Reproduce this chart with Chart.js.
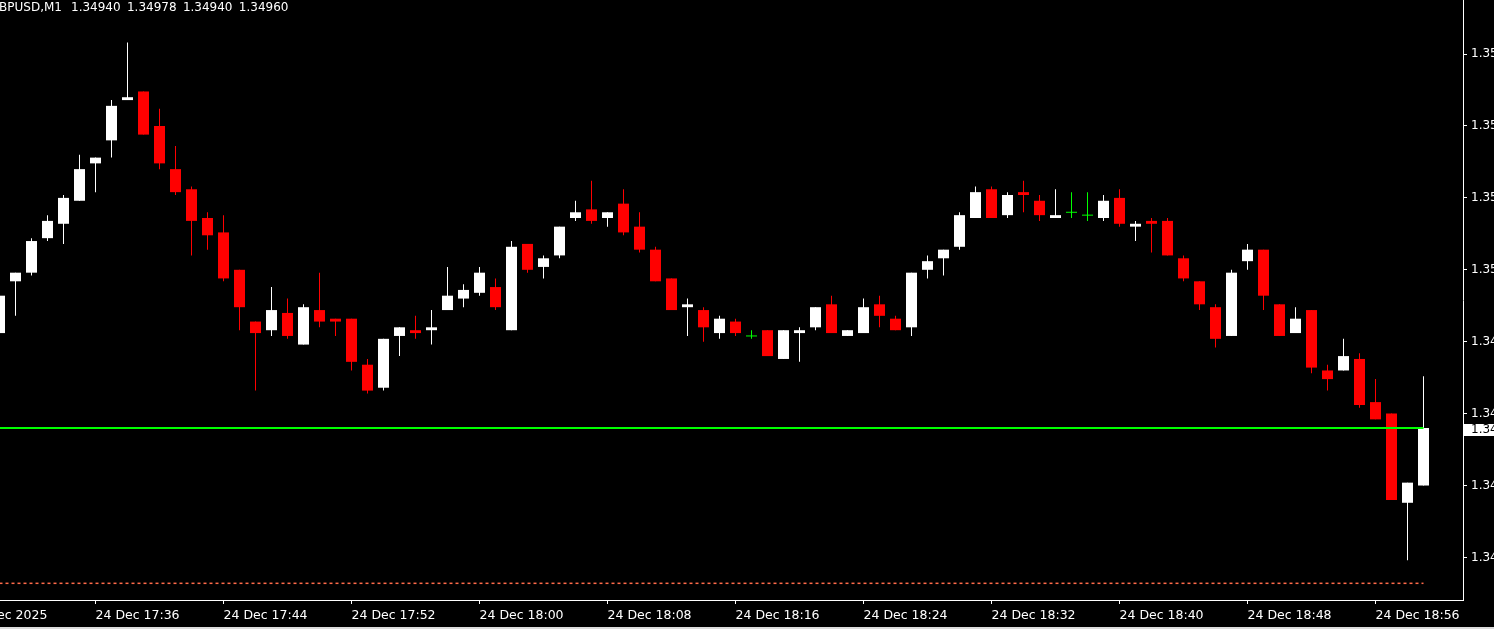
<!DOCTYPE html>
<html>
<head>
<meta charset="utf-8">
<script src="https://cdn.jsdelivr.net/npm/chart.js@4.4.1/dist/chart.umd.min.js"></script>
<style>
html,body{margin:0;padding:0;background:#000;overflow:hidden;width:1494px;height:629px;}
#wrap{position:absolute;left:-40px;top:0;width:1560px;height:629px;}
#hdr{position:absolute;left:0;top:0;width:400px;height:14px;color:#fff;font:12px "DejaVu Sans";white-space:pre;}
#sym{position:absolute;right:calc(100% - 62px);top:0;}
#quote{position:absolute;left:71px;top:0;word-spacing:2.5px;}
#strip{position:absolute;left:0;bottom:0;width:1494px;height:2px;background:#dcdcdc;}
</style>
</head>
<body>
<div id="wrap"><canvas id="chart" width="1560" height="629"></canvas></div>
<div id="hdr"><span id="sym">GBPUSD,M1</span><span id="quote">1.34940 1.34978 1.34940 1.34960</span></div>
<div id="strip"></div>
<script>
const $ = (id)=>document.getElementById(id);

// GBPUSD M1, 24 Dec 2025
const times = ['17:30','17:31','17:32','17:33','17:34','17:35','17:36','17:37','17:38','17:39',
  '17:40','17:41','17:42','17:43','17:44','17:45','17:46','17:47','17:48','17:49',
  '17:50','17:51','17:52','17:53','17:54','17:55','17:56','17:57','17:58','17:59',
  '18:00','18:01','18:02','18:03','18:04','18:05','18:06','18:07','18:08','18:09',
  '18:10','18:11','18:12','18:13','18:14','18:15','18:16','18:17','18:18','18:19',
  '18:20','18:21','18:22','18:23','18:24','18:25','18:26','18:27','18:28','18:29',
  '18:30','18:31','18:32','18:33','18:34','18:35','18:36','18:37','18:38','18:39',
  '18:40','18:41','18:42','18:43','18:44','18:45','18:46','18:47','18:48','18:49',
  '18:50','18:51','18:52','18:53','18:54','18:55','18:56','18:57','18:58','18:59'];
const open = [1.34993,1.35011,1.35014,1.35026,1.35031,1.35039,1.35052,1.35060,1.35074,1.35077,
  1.35065,1.35050,1.35043,1.35033,1.35028,1.35015,1.34997,1.34994,1.35000,1.34989,
  1.35001,1.34998,1.34998,1.34982,1.34974,1.34992,1.34994,1.34994,1.35001,1.35005,
  1.35007,1.35009,1.34994,1.35024,1.35016,1.35020,1.35033,1.35036,1.35033,1.35038,
  1.35030,1.35022,1.35012,1.35002,1.35001,1.34993,1.34997,1.34992,1.34994,1.34984,
  1.34993,1.34995,1.35003,1.34992,1.34993,1.35003,1.34998,1.34995,1.35015,1.35019,
  1.35023,1.35033,1.35043,1.35034,1.35042,1.35039,1.35033,1.35035,1.35034,1.35033,
  1.35040,1.35030,1.35032,1.35032,1.35019,1.35011,1.35002,1.34992,1.35018,1.35022,
  1.35003,1.34993,1.35001,1.34980,1.34980,1.34984,1.34969,1.34965,1.34934,1.34940];
const high = [1.35006,1.35014,1.35026,1.35034,1.35041,1.35055,1.35054,1.35074,1.35094,1.35077,
  1.35071,1.35058,1.35044,1.35035,1.35034,1.35015,1.34997,1.35009,1.35005,1.35003,
  1.35014,1.34998,1.34998,1.34984,1.34991,1.34995,1.34999,1.35001,1.35016,1.35010,
  1.35016,1.35012,1.35025,1.35024,1.35020,1.35030,1.35039,1.35046,1.35035,1.35043,
  1.35035,1.35023,1.35012,1.35005,1.35002,1.34999,1.34998,1.34994,1.34994,1.34994,
  1.34995,1.35002,1.35006,1.34994,1.35005,1.35006,1.34999,1.35014,1.35020,1.35022,
  1.35035,1.35044,1.35044,1.35042,1.35046,1.35041,1.35043,1.35042,1.35042,1.35041,
  1.35043,1.35032,1.35033,1.35033,1.35020,1.35011,1.35003,1.35015,1.35024,1.35022,
  1.35003,1.35002,1.35001,1.34982,1.34991,1.34986,1.34977,1.34965,1.34941,1.34978];
const low = [1.34993,1.34999,1.35013,1.35025,1.35024,1.35039,1.35042,1.35054,1.35074,1.35062,
  1.35050,1.35041,1.35020,1.35022,1.35011,1.34994,1.34973,1.34992,1.34991,1.34989,
  1.34995,1.34992,1.34980,1.34972,1.34973,1.34985,1.34991,1.34989,1.35001,1.35002,
  1.35006,1.35001,1.34994,1.35014,1.35012,1.35019,1.35032,1.35031,1.35030,1.35027,
  1.35021,1.35011,1.35001,1.34992,1.34990,1.34991,1.34992,1.34991,1.34985,1.34984,
  1.34983,1.34994,1.34993,1.34992,1.34993,1.34995,1.34994,1.34992,1.35012,1.35013,
  1.35022,1.35033,1.35033,1.35033,1.35035,1.35032,1.35033,1.35033,1.35032,1.35032,
  1.35030,1.35025,1.35021,1.35020,1.35011,1.35001,1.34988,1.34992,1.35015,1.35001,
  1.34992,1.34993,1.34979,1.34973,1.34980,1.34967,1.34963,1.34935,1.34914,1.34940];
const close = [1.35006,1.35014,1.35025,1.35032,1.35040,1.35050,1.35054,1.35072,1.35075,1.35062,
  1.35052,1.35042,1.35032,1.35027,1.35012,1.35002,1.34993,1.35001,1.34992,1.35002,
  1.34997,1.34997,1.34983,1.34973,1.34991,1.34995,1.34993,1.34995,1.35006,1.35008,
  1.35014,1.35002,1.35023,1.35015,1.35019,1.35030,1.35035,1.35032,1.35035,1.35028,
  1.35022,1.35011,1.35001,1.35003,1.34995,1.34998,1.34993,1.34992,1.34985,1.34994,
  1.34994,1.35002,1.34993,1.34994,1.35002,1.34999,1.34994,1.35014,1.35018,1.35022,
  1.35034,1.35042,1.35033,1.35041,1.35041,1.35034,1.35034,1.35035,1.35034,1.35039,
  1.35031,1.35031,1.35031,1.35020,1.35012,1.35003,1.34991,1.35014,1.35022,1.35006,
  1.34992,1.34998,1.34981,1.34977,1.34985,1.34968,1.34963,1.34935,1.34941,1.34960];

const priceTicks = [1.34915,1.34940,1.34965,1.34990,1.35015,1.35040,1.35065,1.35090];
const timeTicks = ['17:28','17:36','17:44','17:52','18:00','18:08','18:16','18:24','18:32','18:40','18:48','18:56'];
const timeTickLabels = ['24 Dec 2025','24 Dec 17:36','24 Dec 17:44','24 Dec 17:52','24 Dec 18:00','24 Dec 18:08',
  '24 Dec 18:16','24 Dec 18:24','24 Dec 18:32','24 Dec 18:40','24 Dec 18:48','24 Dec 18:56'];

const bidPrice = 1.34960;
const bidSpan = ['17:28','18:59'];
const lowLevel = 1.34906;
const lowLevelSpan = ['17:30','18:59'];

// visible window (minutes since midnight) and price range
const xMin = 1047.53125, xMax = 1141.46875;
const yMin = 1.349002, yMax = 1.351088;

const toMin = (s)=>{ const [h,m] = s.split(':').map(Number); return h*60+m; };
const BULL = '#ffffff', BEAR = '#ff0000', DOJI = '#00ff00';
const colorOf = (i)=> close[i] > open[i] ? BULL : close[i] < open[i] ? BEAR : DOJI;

const xs = times.map(toMin);
const wicks = xs.map((x,i)=>({x, y:[low[i], high[i]]}));
const bodies = xs.map((x,i)=>({x, y:[open[i], close[i]]}));
const dojis = xs.map((x,i)=>({x, y:close[i]})).filter((p,i)=>open[i]===close[i]);
const colors = xs.map((x,i)=>colorOf(i));

Chart.defaults.font.family = '"DejaVu Sans"';
Chart.defaults.font.size = 12;
Chart.defaults.color = '#ffffff';

// no label padding: plot area fills the whole canvas height above the time axis
const noPad = (s)=>{ s.paddingTop = 0; s.paddingBottom = 0; s.paddingLeft = 0; s.paddingRight = 0; };

const priceBox = {
  id:'priceBox',
  afterDraw(chart){
    const ctx = chart.ctx;
    const y = Math.round(chart.scales.y.getPixelForValue(bidPrice));
    const x0 = chart.chartArea.right + 1;
    ctx.save();
    ctx.fillStyle = '#ffffff';
    ctx.fillRect(x0, y-4, chart.width - x0, 12);
    ctx.fillStyle = '#000000';
    ctx.font = '12px "DejaVu Sans"';
    ctx.textBaseline = 'middle';
    ctx.textAlign = 'left';
    ctx.fillText(bidPrice.toFixed(5), x0+7, y+2);
    ctx.restore();
  }
};

new Chart($('chart').getContext('2d'), {
  type:'bar',
  data:{ datasets:[
    { type:'line', data:[{x:toMin(bidSpan[0]), y:bidPrice},{x:toMin(bidSpan[1]), y:bidPrice}],
      borderColor:DOJI, borderWidth:2, pointRadius:0, order:0 },
    { type:'scatter', data:dojis, pointStyle:'line', pointRadius:5.5, pointHoverRadius:5.5,
      borderColor:DOJI, backgroundColor:DOJI, borderWidth:1, order:1 },
    { data:bodies, backgroundColor:colors, grouped:false, barThickness:11,
      barPercentage:11/16, categoryPercentage:1, inflateAmount:0, borderWidth:0, order:2 },
    { data:wicks, backgroundColor:colors, grouped:false, barThickness:1,
      barPercentage:1/16, categoryPercentage:1, inflateAmount:0, borderWidth:0, order:3 },
    { type:'line', data:[{x:toMin(lowLevelSpan[0]), y:lowLevel},{x:toMin(lowLevelSpan[1]), y:lowLevel}],
      borderColor:'#ff6a4a', borderWidth:1.5, borderDash:[3,3], pointRadius:0, order:4 }
  ]},
  options:{
    responsive:false,
    animation:false,
    events:[],
    layout:{ padding:0, autoPadding:false },
    plugins:{ legend:{ display:false }, tooltip:{ enabled:false } },
    scales:{
      x:{
        type:'linear', min:xMin, max:xMax, offset:false,
        grid:{ offset:false, drawOnChartArea:false, drawTicks:true, tickLength:4, color:'#ffffff', tickColor:'#ffffff' },
        border:{ display:true, color:'#ffffff', width:1 },
        afterBuildTicks:(s)=>{ s.ticks = timeTicks.map(t=>({value:toMin(t)})); },
        afterFit:(s)=>{ s.height = 29; noPad(s); },
        ticks:{ autoSkip:false, maxRotation:0, minRotation:0, align:'start', padding:4, color:'#ffffff',
          font:{ size:12.5 }, callback:(v,i)=> timeTickLabels[i] }
      },
      y:{
        type:'linear', position:'right', min:yMin, max:yMax, beginAtZero:false,
        grid:{ drawOnChartArea:false, drawTicks:true, tickLength:4, color:'#ffffff', tickColor:'#ffffff' },
        border:{ display:true, color:'#ffffff', width:1 },
        afterBuildTicks:(s)=>{ s.ticks = priceTicks.map(v=>({value:v})); },
        afterFit:(s)=>{ s.width = 57; noPad(s); },
        ticks:{ padding:4, color:'#ffffff', callback:(v)=> Number(v).toFixed(5) }
      }
    }
  },
  plugins:[priceBox]
});
</script>
</body>
</html>
